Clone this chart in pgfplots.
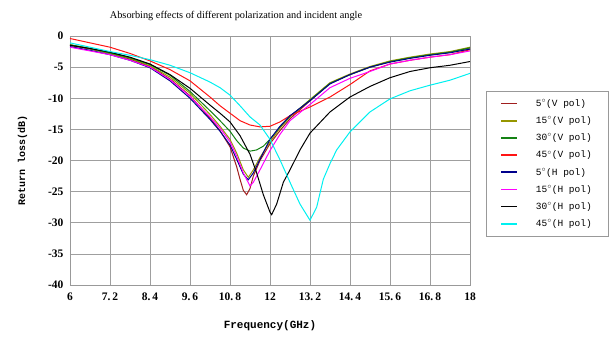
\documentclass[border=0pt]{standalone}
\usepackage{fontspec}
\setmainfont{Liberation Serif}
\newfontfamily\monof{Liberation Mono}
\usepackage{pgfplots}
\pgfplotsset{compat=1.18}
\definecolor{cDR}{RGB}{160,30,30}
\definecolor{cOL}{RGB}{150,150,0}
\definecolor{cGR}{RGB}{20,130,20}
\definecolor{cRD}{RGB}{255,20,20}
\definecolor{cNV}{RGB}{0,0,140}
\definecolor{cMG}{RGB}{255,0,255}
\definecolor{cCY}{RGB}{0,240,240}
\begin{document}
\begin{tikzpicture}
\useasboundingbox (-70pt,-53pt) rectangle (543pt,285pt);
\begin{axis}[
  at={(0,0)}, anchor=south west,
  scale only axis, width=400pt, height=249pt,
  xmin=6, xmax=18, ymin=-40, ymax=0,
  xtick={6,7.2,8.4,9.6,10.8,12,13.2,14.4,15.6,16.8,18},
  xticklabels={6,7.\,2,8.\,4,9.\,6,10.\,8,12,13.\,2,14.\,4,15.\,6,16.\,8,18},
  ytick={-40,-35,...,0},
  major tick length=0pt,
  grid=major,
  grid style={gray!75, line width=0.6pt},
  axis line style={gray!80, line width=0.8pt},
  tick label style={font=\fontsize{11.5}{12}\selectfont\bfseries},
  /pgf/number format/assume math mode=true,
  yticklabel style={xshift=-3pt},
  xticklabel style={yshift=-4pt},
  xlabel={\monof\bfseries Frequency(GHz)},
  ylabel={\monof\bfseries Return loss(dB)},
  xlabel style={font=\fontsize{11}{12}\selectfont, yshift=-13pt},
  ylabel style={font=\fontsize{10}{12}\selectfont, yshift=14pt},
  legend style={at={(1.04,0.779)}, anchor=north west, draw=gray!80,
    font=\monof\fontsize{9.5}{11}\selectfont, inner xsep=14pt, inner ysep=6pt,
    row sep=4.6pt, cells={anchor=west},
    /tikz/every odd column/.append style={column sep=16pt}},
  legend cell align=left,
  legend image code/.code={\draw[#1, line width=1.7pt] (0pt,0pt) -- (16pt,0pt);},
  every axis plot/.append style={line width=1pt},
  clip mode=individual,
]
\addplot[cDR] coordinates {(6,-1.5)(6.6,-2.1)(7.2,-2.8)(7.8,-3.7)(8.4,-4.9)(9.0,-6.9)(9.6,-9.6)(10.2,-13.2)(10.5,-15.2)(10.8,-17.8)(11.0,-21)(11.1,-23)(11.2,-24.8)(11.3,-25.5)(11.4,-24.5)(11.5,-22.5)(11.7,-20)(12.0,-17.3)(12.3,-15.2)(12.6,-13.3)(13.2,-10.4)(13.8,-7.6)(14.4,-6.2)(15,-5)(15.6,-4.1)(16.2,-3.5)(16.8,-3)(17.4,-2.6)(18,-1.9)};
\addlegendentry{5$^\circ$(V pol)}
\addplot[cOL] coordinates {(6,-1.4)(6.6,-2)(7.2,-2.8)(7.8,-3.6)(8.4,-4.8)(9.0,-6.6)(9.6,-9.2)(10.2,-12.6)(10.5,-14.5)(10.8,-16.6)(11.0,-18.8)(11.2,-21.5)(11.35,-22.7)(11.5,-21.5)(11.7,-19.5)(12.0,-17)(12.3,-14.8)(12.6,-13)(13.2,-10.2)(13.8,-7.5)(14.4,-6.1)(15,-4.9)(15.6,-4.0)(16.2,-3.4)(16.8,-2.9)(17.4,-2.5)(18,-1.8)};
\addlegendentry{15$^\circ$(V pol)}
\addplot[cGR] coordinates {(6,-1.4)(6.6,-2)(7.2,-2.7)(7.8,-3.5)(8.4,-4.6)(9.0,-6.3)(9.6,-8.9)(10.2,-12)(10.5,-13.6)(10.8,-15.3)(11.0,-16.8)(11.2,-18)(11.4,-18.5)(11.6,-18.3)(11.8,-17.7)(12.0,-16.6)(12.3,-14.6)(12.6,-12.9)(13.2,-10.3)(13.8,-7.6)(14.4,-6.2)(15,-5)(15.6,-4.1)(16.2,-3.5)(16.8,-3)(17.4,-2.6)(18,-1.9)};
\addlegendentry{30$^\circ$(V pol)}
\addplot[cRD] coordinates {(6,-0.4)(6.6,-1.1)(7.2,-1.8)(7.8,-2.8)(8.4,-4.0)(9.0,-5.4)(9.6,-7.2)(10.2,-9.8)(10.5,-11.2)(10.8,-12.4)(11.1,-13.6)(11.4,-14.3)(11.7,-14.6)(12.0,-14.5)(12.3,-13.8)(12.6,-12.8)(13.2,-11.4)(13.8,-9.8)(14.4,-7.8)(15,-5.6)(15.6,-4.5)(16.2,-3.9)(16.8,-3.4)(17.4,-3.0)(18,-2.2)};
\addlegendentry{45$^\circ$(V pol)}
\addplot[cNV] coordinates {(6,-1.7)(6.6,-2.3)(7.2,-3.0)(7.8,-3.9)(8.4,-5.1)(9.0,-7.2)(9.6,-10)(10.2,-13.4)(10.5,-15.3)(10.8,-17.5)(11.0,-19.8)(11.2,-22.2)(11.35,-23.1)(11.5,-22)(11.7,-19.8)(12.0,-16.6)(12.3,-14.5)(12.6,-12.8)(13.2,-10.4)(13.8,-7.7)(14.4,-6.2)(15,-5.0)(15.6,-4.2)(16.2,-3.6)(16.8,-3.1)(17.4,-2.7)(18,-2.1)};
\addlegendentry{5$^\circ$(H pol)}
\addplot[cMG] coordinates {(6,-1.8)(6.6,-2.4)(7.2,-3.0)(7.8,-3.9)(8.4,-5.0)(9.0,-7.0)(9.6,-9.7)(10.2,-13.0)(10.5,-14.8)(10.8,-17.0)(11.0,-19.3)(11.2,-22)(11.4,-24.1)(11.5,-23.5)(11.7,-21.5)(12.0,-18.4)(12.3,-15.8)(12.6,-13.6)(13.2,-11.0)(13.8,-8.3)(14.4,-6.8)(15,-5.7)(15.6,-4.5)(16.2,-3.9)(16.8,-3.4)(17.4,-3.0)(18,-2.4)};
\addlegendentry{15$^\circ$(H pol)}
\addplot[black] coordinates {(6,-1.5)(6.6,-2.0)(7.2,-2.6)(7.8,-3.4)(8.4,-4.5)(9.0,-6.2)(9.6,-8.4)(10.2,-11.1)(10.5,-12.4)(10.8,-13.8)(11.1,-16)(11.4,-19)(11.6,-22)(11.8,-25.5)(12.0,-28.3)(12.05,-28.7)(12.2,-27)(12.4,-23.5)(12.6,-21.5)(12.9,-18.3)(13.2,-15.6)(13.8,-12.2)(14.4,-9.8)(15,-8.1)(15.6,-6.7)(16.2,-5.7)(16.8,-5.1)(17.4,-4.7)(18,-4.1)};
\addlegendentry{30$^\circ$(H pol)}
\addplot[cCY] coordinates {(6,-1.1)(6.6,-1.8)(7.2,-2.5)(7.8,-3.1)(8.4,-3.8)(9.0,-4.7)(9.6,-5.9)(10.2,-7.4)(10.5,-8.3)(10.8,-9.5)(11.1,-11.2)(11.4,-13.0)(11.7,-14.3)(12.0,-16.6)(12.3,-19.9)(12.6,-23.5)(12.9,-27)(13.2,-29.6)(13.4,-27.5)(13.6,-23)(13.8,-20.5)(14.0,-18.3)(14.4,-15.4)(14.7,-13.8)(15.0,-12.2)(15.6,-10.1)(16.2,-8.8)(16.8,-7.9)(17.4,-7.1)(18,-6)};
\addlegendentry{45$^\circ$(H pol)}
\node[font=\fontsize{10.3}{12}\selectfont, anchor=center] at (rel axis cs:0.415,1.08) {Absorbing effects of different polarization and incident angle};
\end{axis}
\end{tikzpicture}
\end{document}
